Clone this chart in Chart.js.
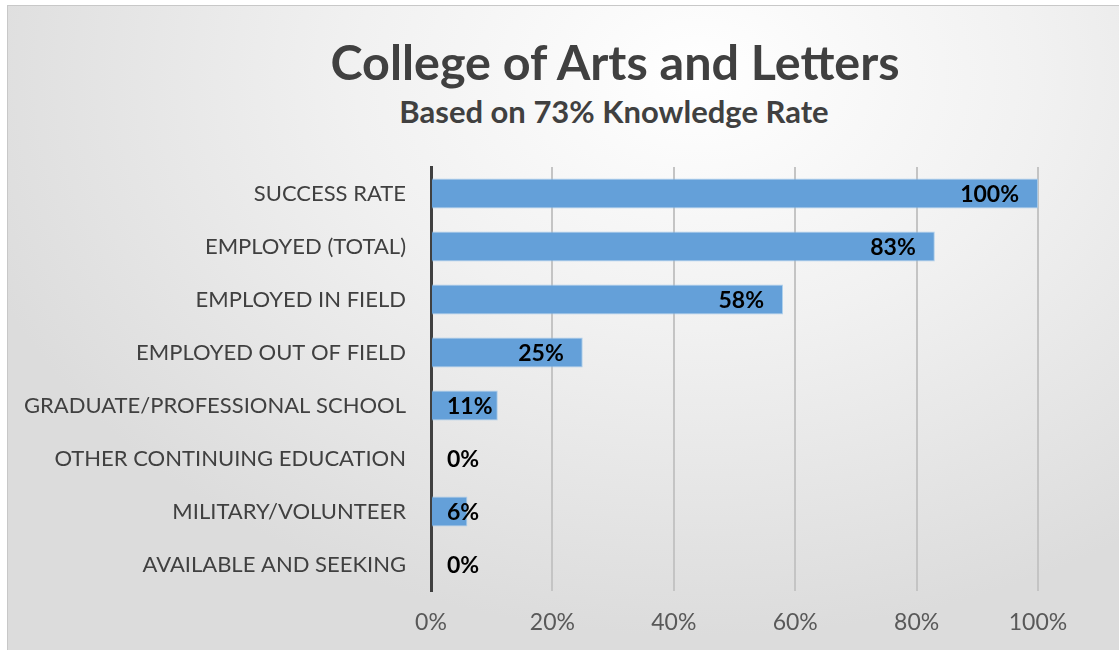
<!DOCTYPE html>
<html>
<head>
<meta charset="utf-8">
<script src="https://cdn.jsdelivr.net/npm/chart.js@4.4.1/dist/chart.umd.min.js"></script>
<style>
  html, body { margin: 0; padding: 0; background: #fff; }
  #frame {
    position: absolute; left: 7px; top: 5px; width: 1112px; height: 645px;
    box-sizing: border-box;
    border-top: 1px solid #c8c8c8; border-left: 1px solid #c8c8c8;
    background: radial-gradient(ellipse 760px 560px at 690px 70px, #ffffff 0%, #f1f1f1 45%, #dcdcdc 100%);
  }
  .ttl { position: absolute; transform: translateX(-50%); white-space: nowrap;
         font-family: Lato, "Open Sans", sans-serif; font-weight: bold; color: #404040; margin: 0; }
  #title { left: 615px; top: 31px; font-size: 48.5px; line-height: 60px; }
  #subtitle { left: 614px; top: 93px; font-size: 31px; line-height: 36px; }
  #chart { position: absolute; left: 0; top: 0; }
</style>
</head>
<body>
<div id="frame"></div>
<div class="ttl" id="title">College of Arts and Letters</div>
<div class="ttl" id="subtitle">Based on 73% Knowledge Rate</div>
<canvas id="chart" width="1119" height="650"></canvas>
<script>
// categories and values (percent)
const categories = [
  'SUCCESS RATE',
  'EMPLOYED (TOTAL)',
  'EMPLOYED IN FIELD',
  'EMPLOYED OUT OF FIELD',
  'GRADUATE/PROFESSIONAL SCHOOL',
  'OTHER CONTINUING EDUCATION',
  'MILITARY/VOLUNTEER',
  'AVAILABLE AND SEEKING'
];
const values = [100, 83, 58, 25, 11, 0, 6, 0];
const xTicks = [0, 20, 40, 60, 80, 100];

const FONT = 'Lato, "Open Sans", sans-serif';

// labels sit inside the bar end, pushed out past the axis when the bar is too short
const barLabels = {
  id: 'barLabels',
  afterDatasetsDraw(chart) {
    const ctx = chart.ctx;
    const meta = chart.getDatasetMeta(0);
    const axisX = chart.scales.x.getPixelForValue(0);
    ctx.save();
    ctx.font = 'bold 23px ' + FONT;
    ctx.fillStyle = '#000';
    ctx.textAlign = 'right';
    ctx.textBaseline = 'middle';
    meta.data.forEach((bar, i) => {
      const txt = values[i] + '%';
      const w = ctx.measureText(txt).width;
      const right = Math.max(bar.x - 19, axisX + 16 + w);
      ctx.fillText(txt, right, bar.y + 1);
    });
    ctx.restore();
  }
};

const ctx = document.getElementById('chart').getContext('2d');

new Chart(ctx, {
  type: 'bar',
  data: {
    labels: categories,
    datasets: [{
      data: values,
      backgroundColor: '#64a0d9',
      borderColor: 'rgba(160,200,235,0.8)',
      borderWidth: 1,
      borderSkipped: 'left',
      categoryPercentage: 1,
      barPercentage: 0.57
    }]
  },
  options: {
    indexAxis: 'y',
    responsive: false,
    animation: false,
    layout: { padding: { left: 0, right: 81, top: 167, bottom: 0 } },
    plugins: { legend: { display: false }, tooltip: { enabled: false } },
    scales: {
      x: {
        min: 0, max: 100,
        afterBuildTicks(scale) { scale.ticks = xTicks.map(v => ({ value: v })); },
        afterFit(scale) { scale.height = 59; },
        border: { display: false },
        grid: {
          drawTicks: false,
          lineWidth: 2,
          color: c => c.tick && c.tick.value === 0 ? 'rgba(0,0,0,0)' : '#c4c4c4'
        },
        ticks: {
          padding: 18,
          color: '#595959',
          font: { family: FONT, size: 23 },
          callback: v => v + '%'
        }
      },
      y: {
        afterFit(scale) { scale.width = 431; },
        border: { display: true, color: '#404040', width: 3 },
        grid: { display: false, drawTicks: false },
        ticks: {
          padding: 25,
          color: '#404040',
          font: { family: FONT, size: 22 }
        }
      }
    }
  },
  plugins: [barLabels]
});
</script>
</body>
</html>
